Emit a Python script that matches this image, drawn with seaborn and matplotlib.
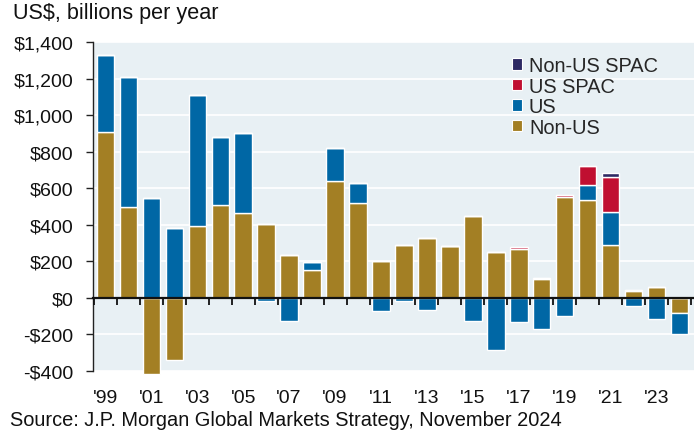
import numpy as np
import pandas as pd
import matplotlib
matplotlib.use("Agg")
import matplotlib.pyplot as plt
from matplotlib.patches import Patch
import seaborn as sns

# ---------------- data ----------------
years = list(range(1999, 2025))
non_us = [905, 497, -415, -340, 392, 510, 465, 403, 232, 153, 640, 521, 200,
          287, 328, 284, 448, 250, 268, 103, 550, 535, 292, 35, 62, -80]
us = [425, 713, 547, 385, 718, 370, 435, -18, -125, 44, 180, 108, -73,
      -18, -65, 2, -128, -283, -133, -170, -100, 82, 180, -45, -113, -115]
us_spac = [0] * 18 + [12, 8, 15, 103, 188, 10, 0, 0]
non_us_spac = [0] * 22 + [22, 0, 0, 0]
series_names = ["Non-US", "US", "US SPAC", "Non-US SPAC"]
series_values = [non_us, us, us_spac, non_us_spac]
series_colors = ["#A37F24", "#0067A5", "#C00F31", "#2D2963"]
xtick_years = [1999, 2001, 2003, 2005, 2007, 2009, 2011, 2013, 2015, 2017, 2019, 2021, 2023]
xtick_labels = ["'99", "'01", "'03", "'05", "'07", "'09", "'11", "'13", "'15", "'17", "'19", "'21", "'23"]
ytick_values = [-400, -200, 0, 200, 400, 600, 800, 1000, 1200, 1400]
ytick_labels = ["-$400", "-$200", "$0", "$200", "$400", "$600", "$800", "$1,000", "$1,200", "$1,400"]

# ---------------- style ----------------
sns.set_style("white")
plt.rcParams["font.family"] = ["Liberation Sans", "DejaVu Sans"]
BG = "#E8F0F4"

fig = plt.figure(figsize=(6.94, 4.35), dpi=100)
ax = fig.add_axes([93 / 694, 1 - 372 / 435, 1 - 93 / 694, (372 - 43) / 435])
ax.set_facecolor(BG)

year_labels = [str(y) for y in years]
pos_bottom = np.zeros(len(years))
neg_bottom = np.zeros(len(years))
for name, vals, col in zip(series_names, series_values, series_colors):
    v = np.array(vals, dtype=float)
    bottom = np.where(v >= 0, pos_bottom, neg_bottom)
    df = pd.DataFrame({"year": year_labels, "value": v})
    sns.barplot(data=df, x="year", y="value", order=year_labels, color=col,
                saturation=1, width=0.76, edgecolor="white", linewidth=1.0,
                bottom=bottom, errorbar=None, ax=ax, clip_on=False, zorder=3)
    pos_bottom = pos_bottom + np.where(v > 0, v, 0)
    neg_bottom = neg_bottom + np.where(v < 0, v, 0)

ax.set_xlim(-0.54, 25.63)
ax.set_ylim(-400, 1400)

# gridlines
ax.set_yticks(ytick_values)
ax.set_yticklabels(ytick_labels, fontsize=14, color="#111111")
ax.yaxis.grid(True, color="white", linewidth=1.2, zorder=0)
ax.set_axisbelow(True)
ax.tick_params(axis="y", direction="out", length=5, width=1, pad=9, left=True, color="#222222")

for s in ["top", "right", "bottom"]:
    ax.spines[s].set_visible(False)
ax.spines["left"].set_color("#222222")
ax.spines["left"].set_linewidth(1)

# x labels at bottom of plot
xpos = [years.index(y) for y in xtick_years]
ax.set_xticks(xpos)
ax.set_xticklabels(xtick_labels, fontsize=14, color="#111111")
ax.tick_params(axis="x", length=0, pad=13)
ax.set_xlabel("")
ax.set_ylabel("")

# zero line with boundary ticks
sec = ax.secondary_xaxis(400 / 1800)
sec.set_xticks(np.arange(-0.5, len(years), 1.0))
sec.set_xticklabels([])
sec.tick_params(axis="x", direction="out", length=5, width=1.3, color="#111111")
sec.spines["bottom"].set_linewidth(1.6)
sec.spines["bottom"].set_color("#111111")
sec.set_zorder(4)

# legend
handles = [Patch(facecolor=c, edgecolor="white", linewidth=0.8, label=n)
           for n, c in zip(series_names, series_colors)][::-1]
fig.legend(handles=handles, loc="upper left", bbox_to_anchor=(512 / 694, 1 - 57 / 435),
           frameon=False, fontsize=14.4, handlelength=0.5, handleheight=0.5,
           handletextpad=0.35, labelspacing=0.08, borderpad=0, borderaxespad=0)

fig.text(13 / 694, 1 - 14 / 435, "US$, billions per year", fontsize=15.6,
         va="center", ha="left", color="#111111")
fig.text(10 / 694, 1 - 421 / 435, "Source: J.P. Morgan Global Markets Strategy, November 2024",
         fontsize=14.4, va="center", ha="left", color="#111111")

fig.savefig("out.png", dpi=100, facecolor="white")
